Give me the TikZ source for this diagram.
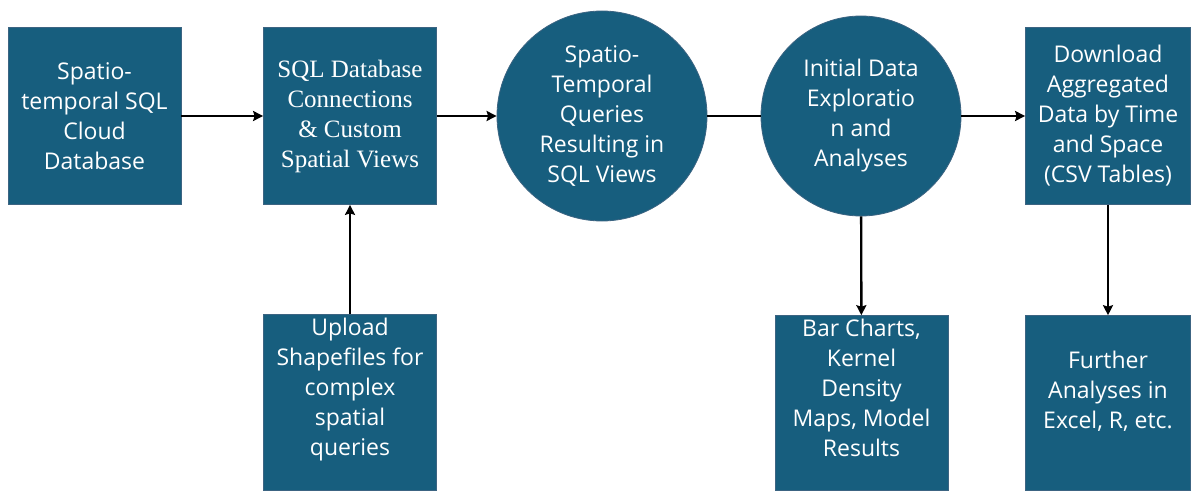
\documentclass[tikz,border=0pt]{standalone}
\usepackage{fontspec}
\setmainfont{Open Sans}
\newfontfamily\timesfont{Liberation Serif}
\usetikzlibrary{calc,arrows.meta}
\definecolor{tealblue}{RGB}{23,94,126}
\definecolor{tealedge}{RGB}{60,100,130}

\begin{document}
\begin{tikzpicture}[x=1pt,y=1pt,
    stepbox/.style={rectangle,fill=tealblue,draw=tealedge,line width=0.8pt,
      minimum width=173pt,minimum height=177pt,inner sep=0pt},
    stepcirc/.style={circle,fill=tealblue,draw=tealedge,line width=0.8pt,inner sep=0pt},
    boxtext/.style={text=white,align=center,font=\fontsize{23}{30}\selectfont},
    link/.style={line width=2.4pt,black},
    flow/.style={link,-{Stealth[length=10pt,width=10pt,inset=1.5pt]}}]
    \useasboundingbox (0,0) rectangle (1191,491);

    \coordinate (cloudpos) at (94.5,375);
    \coordinate (connpos) at (350,375);
    \coordinate (querypos) at (602,375);
    \coordinate (explorepos) at (861,375);
    \coordinate (downpos) at (1108,375);

    % top row
    \node[stepbox,boxtext] (cloud) at (cloudpos) {Spatio-\\temporal SQL\\Cloud\\Database};
    \node[stepbox,boxtext,font=\timesfont\fontsize{25}{30}\selectfont] (conn) at (connpos)
      {SQL Database\\Connections\\\& Custom\\Spatial Views};
    \node[stepcirc,boxtext,minimum size=210pt] (queries) at (querypos)
      {Spatio-\\Temporal\\Queries\\Resulting in\\SQL Views};
    \node[stepcirc,boxtext,minimum size=200pt] (explore) at (explorepos)
      {Initial Data\\Exploratio\\n and\\Analyses};
    \node[stepbox,boxtext,minimum width=165pt] (download) at (downpos)
      {Download\\Aggregated\\Data by Time\\and Space\\(CSV Tables)};

    % bottom row
    \node[stepbox,minimum height=176pt,anchor=south] (upload) at (350,0) {};
    \node[boxtext,anchor=north] (uploadtxt) at (upload.north)
      {Upload\\Shapefiles for\\complex\\spatial\\queries};
    \node[stepbox,minimum height=175pt,anchor=south] (charts) at (861.5,0) {};
    \node[boxtext,anchor=north] (chartstxt) at (charts.north)
      {Bar Charts,\\Kernel\\Density\\Maps, Model\\Results};
    \node[stepbox,minimum width=165pt,minimum height=175pt,anchor=south] (further) at (1108,0) {};
    \node[boxtext,anchor=north] (furthertxt) at ([yshift=-32pt]further.north)
      {Further\\Analyses in\\Excel, R, etc.};

    \draw[flow] (cloud) -- (conn);
    \draw[flow] (conn) -- (queries);
    \draw[link] (queries) -- (explore);
    \draw[flow] (explore) -- (download);
    \draw[flow] (upload) -- (conn);
    \draw[flow] (explore) -- (charts);
    \draw[flow] (download) -- (further);
\end{tikzpicture}
\end{document}
